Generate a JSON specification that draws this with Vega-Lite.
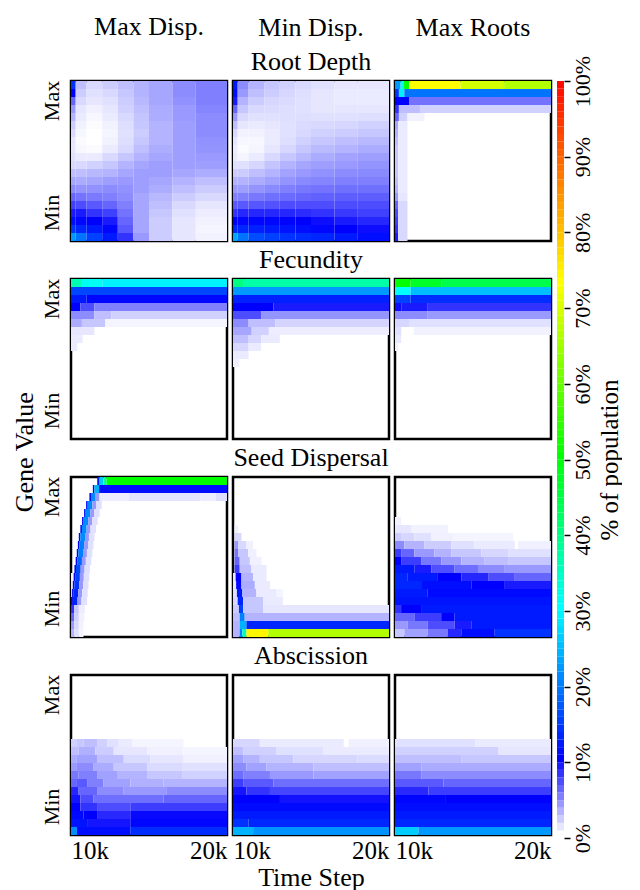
{
"$schema":"https://vega.github.io/schema/vega-lite/v6.json",
"padding":{"left":11,"top":13,"right":0,"bottom":0},
"background":"#ffffff",
"config":{
 "font":"Liberation Serif",
 "view":{"stroke":"#000000","strokeWidth":2.5},
 "title":{"fontSize":26,"fontWeight":"normal","font":"Liberation Serif","lineHeight":34,"offset":6,"anchor":"middle","color":"#000000"},
 "axis":{"grid":false,"domain":false,"ticks":false,"labelFont":"Liberation Serif","labelColor":"#000000","titleFont":"Liberation Serif","titleFontWeight":"normal","titleColor":"#000000"}
},
"datasets":{
"RD0":[
{"a":10,"b":10.3,"y":19,"v":14},{"a":10.3,"b":11,"y":19,"v":2.5},{"a":11,"b":12,"y":19,"v":1.5},{"a":12,"b":13,"y":19,"v":2},{"a":13,"b":14,"y":19,"v":2.5},{"a":14,"b":15,"y":19,"v":3},{"a":15,"b":16.5,"y":19,"v":3.5},{"a":16.5,"b":18,"y":19,"v":4.5},{"a":18,"b":20,"y":19,"v":5},
{"a":10,"b":10.3,"y":18,"v":10},{"a":10.3,"b":11,"y":18,"v":2},{"a":11,"b":12,"y":18,"v":1.2},{"a":12,"b":13,"y":18,"v":1.5},{"a":13,"b":14,"y":18,"v":2.2},{"a":14,"b":15,"y":18,"v":3},{"a":15,"b":16.5,"y":18,"v":3.5},{"a":16.5,"b":18,"y":18,"v":4.5},{"a":18,"b":20,"y":18,"v":5},
{"a":10,"b":10.3,"y":17,"v":6},{"a":10.3,"b":11,"y":17,"v":1.5},{"a":11,"b":12,"y":17,"v":1},{"a":12,"b":13,"y":17,"v":1.2},{"a":13,"b":14,"y":17,"v":2},{"a":14,"b":15,"y":17,"v":2.8},{"a":15,"b":16.5,"y":17,"v":3.5},{"a":16.5,"b":18,"y":17,"v":4.3},{"a":18,"b":20,"y":17,"v":5},
{"a":10,"b":10.3,"y":16,"v":4},{"a":10.3,"b":11,"y":16,"v":1},{"a":11,"b":12,"y":16,"v":0.6},{"a":12,"b":13,"y":16,"v":1},{"a":13,"b":14,"y":16,"v":1.8},{"a":14,"b":15,"y":16,"v":2.5},{"a":15,"b":16.5,"y":16,"v":3.3},{"a":16.5,"b":18,"y":16,"v":4},{"a":18,"b":20,"y":16,"v":4.8},
{"a":10,"b":10.3,"y":15,"v":3},{"a":10.3,"b":11,"y":15,"v":0.8},{"a":11,"b":12,"y":15,"v":0.3},{"a":12,"b":13,"y":15,"v":0.8},{"a":13,"b":14,"y":15,"v":1.5},{"a":14,"b":15,"y":15,"v":2.3},{"a":15,"b":16.5,"y":15,"v":3.2},{"a":16.5,"b":18,"y":15,"v":4},{"a":18,"b":20,"y":15,"v":4.5},
{"a":10,"b":10.3,"y":14,"v":2},{"a":10.3,"b":11,"y":14,"v":0.5},{"a":11,"b":12,"y":14,"v":0.1},{"a":12,"b":13,"y":14,"v":0.5},{"a":13,"b":14,"y":14,"v":1.3},{"a":14,"b":15,"y":14,"v":2.2},{"a":15,"b":16.5,"y":14,"v":3},{"a":16.5,"b":18,"y":14,"v":3.8},{"a":18,"b":20,"y":14,"v":4.5},
{"a":10,"b":10.3,"y":13,"v":1.5},{"a":10.3,"b":11,"y":13,"v":0.3},{"a":12,"b":13,"y":13,"v":0.4},{"a":13,"b":14,"y":13,"v":1.2},{"a":14,"b":15,"y":13,"v":2},{"a":15,"b":16.5,"y":13,"v":3},{"a":16.5,"b":18,"y":13,"v":3.8},{"a":18,"b":20,"y":13,"v":4.5},
{"a":10,"b":10.3,"y":12,"v":1},{"a":10.3,"b":11,"y":12,"v":0.2},{"a":12,"b":13,"y":12,"v":0.5},{"a":13,"b":14,"y":12,"v":1.3},{"a":14,"b":15,"y":12,"v":2.2},{"a":15,"b":16.5,"y":12,"v":3},{"a":16.5,"b":18,"y":12,"v":3.8},{"a":18,"b":20,"y":12,"v":4.3},
{"a":10,"b":10.3,"y":11,"v":1},{"a":10.3,"b":11,"y":11,"v":0.3},{"a":11,"b":12,"y":11,"v":0.2},{"a":12,"b":13,"y":11,"v":0.8},{"a":13,"b":14,"y":11,"v":1.5},{"a":14,"b":15,"y":11,"v":2.5},{"a":15,"b":16.5,"y":11,"v":3.2},{"a":16.5,"b":18,"y":11,"v":3.8},{"a":18,"b":20,"y":11,"v":4.2},
{"a":10,"b":10.3,"y":10,"v":1.2},{"a":10.3,"b":11,"y":10,"v":0.8},{"a":11,"b":12,"y":10,"v":0.8},{"a":12,"b":13,"y":10,"v":1.5},{"a":13,"b":14,"y":10,"v":2.2},{"a":14,"b":15,"y":10,"v":3},{"a":15,"b":16.5,"y":10,"v":3.5},{"a":16.5,"b":18,"y":10,"v":3.8},{"a":18,"b":20,"y":10,"v":4},
{"a":10,"b":10.3,"y":9,"v":1.5},{"a":10.3,"b":11,"y":9,"v":1.5},{"a":11,"b":12,"y":9,"v":1.8},{"a":12,"b":13,"y":9,"v":2.2},{"a":13,"b":14,"y":9,"v":3},{"a":14,"b":15,"y":9,"v":3.5},{"a":15,"b":16.5,"y":9,"v":3.8},{"a":16.5,"b":18,"y":9,"v":3.8},{"a":18,"b":20,"y":9,"v":3.8},
{"a":10,"b":10.3,"y":8,"v":2.5},{"a":10.3,"b":11,"y":8,"v":2.5},{"a":11,"b":12,"y":8,"v":2.8},{"a":12,"b":13,"y":8,"v":3},{"a":13,"b":14,"y":8,"v":3.5},{"a":14,"b":15,"y":8,"v":3.8},{"a":15,"b":16.5,"y":8,"v":3.8},{"a":16.5,"b":18,"y":8,"v":3.5},{"a":18,"b":20,"y":8,"v":3.2},
{"a":10,"b":10.3,"y":7,"v":3.5},{"a":10.3,"b":11,"y":7,"v":3.3},{"a":11,"b":12,"y":7,"v":3.5},{"a":12,"b":13,"y":7,"v":3.8},{"a":13,"b":14,"y":7,"v":4},{"a":14,"b":15,"y":7,"v":3.8},{"a":15,"b":16.5,"y":7,"v":3.5},{"a":16.5,"b":18,"y":7,"v":3},{"a":18,"b":20,"y":7,"v":2.5},
{"a":10,"b":10.3,"y":6,"v":4.5},{"a":10.3,"b":11,"y":6,"v":4.2},{"a":11,"b":12,"y":6,"v":4.3},{"a":12,"b":13,"y":6,"v":4.5},{"a":13,"b":14,"y":6,"v":4.3},{"a":14,"b":15,"y":6,"v":3.8},{"a":15,"b":16.5,"y":6,"v":3.2},{"a":16.5,"b":18,"y":6,"v":2.5},{"a":18,"b":20,"y":6,"v":2},
{"a":10,"b":10.3,"y":5,"v":6},{"a":10.3,"b":11,"y":5,"v":5.5},{"a":11,"b":12,"y":5,"v":5.2},{"a":12,"b":13,"y":5,"v":5},{"a":13,"b":14,"y":5,"v":4.5},{"a":14,"b":15,"y":5,"v":3.5},{"a":15,"b":16.5,"y":5,"v":2.8},{"a":16.5,"b":18,"y":5,"v":2},{"a":18,"b":20,"y":5,"v":1.5},
{"a":10,"b":10.3,"y":4,"v":7.5},{"a":10.3,"b":11,"y":4,"v":7},{"a":11,"b":12,"y":4,"v":6.5},{"a":12,"b":13,"y":4,"v":6},{"a":13,"b":14,"y":4,"v":5},{"a":14,"b":15,"y":4,"v":3.5},{"a":15,"b":16.5,"y":4,"v":2.5},{"a":16.5,"b":18,"y":4,"v":1.5},{"a":18,"b":20,"y":4,"v":1},
{"a":10,"b":10.3,"y":3,"v":9},{"a":10.3,"b":11,"y":3,"v":9},{"a":11,"b":12,"y":3,"v":8},{"a":12,"b":13,"y":3,"v":7.5},{"a":13,"b":14,"y":3,"v":5.5},{"a":14,"b":15,"y":3,"v":3.5},{"a":15,"b":16.5,"y":3,"v":2.2},{"a":16.5,"b":18,"y":3,"v":1.2},{"a":18,"b":20,"y":3,"v":0.7},
{"a":10,"b":10.3,"y":2,"v":11},{"a":10.3,"b":11,"y":2,"v":10.5},{"a":11,"b":12,"y":2,"v":10},{"a":12,"b":13,"y":2,"v":9},{"a":13,"b":14,"y":2,"v":6},{"a":14,"b":15,"y":2,"v":3.5},{"a":15,"b":16.5,"y":2,"v":2},{"a":16.5,"b":18,"y":2,"v":1},{"a":18,"b":20,"y":2,"v":0.5},
{"a":10,"b":10.3,"y":1,"v":14},{"a":10.3,"b":11,"y":1,"v":13},{"a":11,"b":12,"y":1,"v":12},{"a":12,"b":13,"y":1,"v":10.5},{"a":13,"b":14,"y":1,"v":6.5},{"a":14,"b":15,"y":1,"v":3.5},{"a":15,"b":16.5,"y":1,"v":2},{"a":16.5,"b":18,"y":1,"v":1},{"a":18,"b":20,"y":1,"v":0.4},
{"a":10,"b":10.3,"y":0,"v":22},{"a":10.3,"b":11,"y":0,"v":19},{"a":11,"b":12,"y":0,"v":15},{"a":12,"b":13,"y":0,"v":12},{"a":13,"b":14,"y":0,"v":8},{"a":14,"b":15,"y":0,"v":4},{"a":15,"b":16.5,"y":0,"v":2},{"a":16.5,"b":18,"y":0,"v":1},{"a":18,"b":20,"y":0,"v":0.5}
],
"RD1":[
{"a":10,"b":10.3,"y":19,"v":12},{"a":10.3,"b":11,"y":19,"v":4.5},{"a":11,"b":12,"y":19,"v":3},{"a":12,"b":13,"y":19,"v":2.2},{"a":13,"b":14,"y":19,"v":1.8},{"a":14,"b":15,"y":19,"v":1.5},{"a":15,"b":16.5,"y":19,"v":1.2},{"a":16.5,"b":18,"y":19,"v":1},{"a":18,"b":20,"y":19,"v":1},
{"a":10,"b":10.3,"y":18,"v":11},{"a":10.3,"b":11,"y":18,"v":4},{"a":11,"b":12,"y":18,"v":2.5},{"a":12,"b":13,"y":18,"v":2},{"a":13,"b":14,"y":18,"v":1.6},{"a":14,"b":15,"y":18,"v":1.3},{"a":15,"b":16.5,"y":18,"v":1},{"a":16.5,"b":18,"y":18,"v":0.8},{"a":18,"b":20,"y":18,"v":0.8},
{"a":10,"b":10.3,"y":17,"v":9},{"a":10.3,"b":11,"y":17,"v":3},{"a":11,"b":12,"y":17,"v":2},{"a":12,"b":13,"y":17,"v":1.6},{"a":13,"b":14,"y":17,"v":1.4},{"a":14,"b":15,"y":17,"v":1.2},{"a":15,"b":16.5,"y":17,"v":1},{"a":16.5,"b":18,"y":17,"v":0.8},{"a":18,"b":20,"y":17,"v":0.8},
{"a":10,"b":10.3,"y":16,"v":6},{"a":10.3,"b":11,"y":16,"v":2.2},{"a":11,"b":12,"y":16,"v":1.5},{"a":12,"b":13,"y":16,"v":1.4},{"a":13,"b":14,"y":16,"v":1.3},{"a":14,"b":15,"y":16,"v":1.2},{"a":15,"b":16.5,"y":16,"v":1},{"a":16.5,"b":18,"y":16,"v":1},{"a":18,"b":20,"y":16,"v":1},
{"a":10,"b":10.3,"y":15,"v":4},{"a":10.3,"b":11,"y":15,"v":1.5},{"a":11,"b":12,"y":15,"v":1.2},{"a":12,"b":13,"y":15,"v":1.2},{"a":13,"b":14,"y":15,"v":1.3},{"a":14,"b":15,"y":15,"v":1.3},{"a":15,"b":16.5,"y":15,"v":1.2},{"a":16.5,"b":18,"y":15,"v":1.2},{"a":18,"b":20,"y":15,"v":1.3},
{"a":10,"b":10.3,"y":14,"v":2.5},{"a":10.3,"b":11,"y":14,"v":1},{"a":11,"b":12,"y":14,"v":0.8},{"a":12,"b":13,"y":14,"v":1},{"a":13,"b":14,"y":14,"v":1.2},{"a":14,"b":15,"y":14,"v":1.4},{"a":15,"b":16.5,"y":14,"v":1.5},{"a":16.5,"b":18,"y":14,"v":1.6},{"a":18,"b":20,"y":14,"v":1.8},
{"a":10,"b":10.3,"y":13,"v":1.5},{"a":10.3,"b":11,"y":13,"v":0.5},{"a":11,"b":12,"y":13,"v":0.5},{"a":12,"b":13,"y":13,"v":0.8},{"a":13,"b":14,"y":13,"v":1.2},{"a":14,"b":15,"y":13,"v":1.5},{"a":15,"b":16.5,"y":13,"v":1.8},{"a":16.5,"b":18,"y":13,"v":2},{"a":18,"b":20,"y":13,"v":2.2},
{"a":10,"b":10.3,"y":12,"v":1},{"a":10.3,"b":11,"y":12,"v":0.3},{"a":11,"b":12,"y":12,"v":0.3},{"a":12,"b":13,"y":12,"v":0.8},{"a":13,"b":14,"y":12,"v":1.3},{"a":14,"b":15,"y":12,"v":1.8},{"a":15,"b":16.5,"y":12,"v":2.2},{"a":16.5,"b":18,"y":12,"v":2.5},{"a":18,"b":20,"y":12,"v":2.8},
{"a":10,"b":10.3,"y":11,"v":0.7},{"a":10.3,"b":11,"y":11,"v":0.2},{"a":11,"b":12,"y":11,"v":0.4},{"a":12,"b":13,"y":11,"v":1},{"a":13,"b":14,"y":11,"v":1.6},{"a":14,"b":15,"y":11,"v":2.2},{"a":15,"b":16.5,"y":11,"v":2.7},{"a":16.5,"b":18,"y":11,"v":3},{"a":18,"b":20,"y":11,"v":3.3},
{"a":10,"b":10.3,"y":10,"v":0.8},{"a":10.3,"b":11,"y":10,"v":0.4},{"a":11,"b":12,"y":10,"v":0.8},{"a":12,"b":13,"y":10,"v":1.5},{"a":13,"b":14,"y":10,"v":2.2},{"a":14,"b":15,"y":10,"v":2.8},{"a":15,"b":16.5,"y":10,"v":3.3},{"a":16.5,"b":18,"y":10,"v":3.6},{"a":18,"b":20,"y":10,"v":3.8},
{"a":10,"b":10.3,"y":9,"v":1.2},{"a":10.3,"b":11,"y":9,"v":1.2},{"a":11,"b":12,"y":9,"v":1.6},{"a":12,"b":13,"y":9,"v":2.3},{"a":13,"b":14,"y":9,"v":3},{"a":14,"b":15,"y":9,"v":3.5},{"a":15,"b":16.5,"y":9,"v":3.8},{"a":16.5,"b":18,"y":9,"v":4},{"a":18,"b":20,"y":9,"v":4.2},
{"a":10,"b":10.3,"y":8,"v":2},{"a":10.3,"b":11,"y":8,"v":2},{"a":11,"b":12,"y":8,"v":2.5},{"a":12,"b":13,"y":8,"v":3},{"a":13,"b":14,"y":8,"v":3.6},{"a":14,"b":15,"y":8,"v":4},{"a":15,"b":16.5,"y":8,"v":4.3},{"a":16.5,"b":18,"y":8,"v":4.5},{"a":18,"b":20,"y":8,"v":4.6},
{"a":10,"b":10.3,"y":7,"v":3},{"a":10.3,"b":11,"y":7,"v":3},{"a":11,"b":12,"y":7,"v":3.3},{"a":12,"b":13,"y":7,"v":3.7},{"a":13,"b":14,"y":7,"v":4.2},{"a":14,"b":15,"y":7,"v":4.6},{"a":15,"b":16.5,"y":7,"v":4.8},{"a":16.5,"b":18,"y":7,"v":5},{"a":18,"b":20,"y":7,"v":5},
{"a":10,"b":10.3,"y":6,"v":4},{"a":10.3,"b":11,"y":6,"v":3.8},{"a":11,"b":12,"y":6,"v":4.2},{"a":12,"b":13,"y":6,"v":4.6},{"a":13,"b":14,"y":6,"v":5},{"a":14,"b":15,"y":6,"v":5.3},{"a":15,"b":16.5,"y":6,"v":5.5},{"a":16.5,"b":18,"y":6,"v":5.6},{"a":18,"b":20,"y":6,"v":5.6},
{"a":10,"b":10.3,"y":5,"v":5},{"a":10.3,"b":11,"y":5,"v":5},{"a":11,"b":12,"y":5,"v":5.3},{"a":12,"b":13,"y":5,"v":5.6},{"a":13,"b":14,"y":5,"v":5.8},{"a":14,"b":15,"y":5,"v":6},{"a":15,"b":16.5,"y":5,"v":6.2},{"a":16.5,"b":18,"y":5,"v":6.3},{"a":18,"b":20,"y":5,"v":6.3},
{"a":10,"b":10.3,"y":4,"v":6.5},{"a":10.3,"b":11,"y":4,"v":6.5},{"a":11,"b":12,"y":4,"v":6.6},{"a":12,"b":13,"y":4,"v":6.8},{"a":13,"b":14,"y":4,"v":7},{"a":14,"b":15,"y":4,"v":7},{"a":15,"b":16.5,"y":4,"v":7},{"a":16.5,"b":18,"y":4,"v":7},{"a":18,"b":20,"y":4,"v":7},
{"a":10,"b":10.3,"y":3,"v":8},{"a":10.3,"b":11,"y":3,"v":8.5},{"a":11,"b":12,"y":3,"v":8.5},{"a":12,"b":13,"y":3,"v":8.5},{"a":13,"b":14,"y":3,"v":8.5},{"a":14,"b":15,"y":3,"v":8.3},{"a":15,"b":16.5,"y":3,"v":8},{"a":16.5,"b":18,"y":3,"v":7.8},{"a":18,"b":20,"y":3,"v":7.5},
{"a":10,"b":10.3,"y":2,"v":10},{"a":10.3,"b":11,"y":2,"v":10.5},{"a":11,"b":12,"y":2,"v":10.5},{"a":12,"b":13,"y":2,"v":10.5},{"a":13,"b":14,"y":2,"v":10.3},{"a":14,"b":15,"y":2,"v":10},{"a":15,"b":16.5,"y":2,"v":9.5},{"a":16.5,"b":18,"y":2,"v":9},{"a":18,"b":20,"y":2,"v":8.5},
{"a":10,"b":10.3,"y":1,"v":13},{"a":10.3,"b":11,"y":1,"v":13},{"a":11,"b":12,"y":1,"v":12.5},{"a":12,"b":13,"y":1,"v":12},{"a":13,"b":14,"y":1,"v":11.5},{"a":14,"b":15,"y":1,"v":11},{"a":15,"b":16.5,"y":1,"v":10.5},{"a":16.5,"b":18,"y":1,"v":10},{"a":18,"b":20,"y":1,"v":9.5},
{"a":10,"b":10.3,"y":0,"v":23},{"a":10.3,"b":11,"y":0,"v":19},{"a":11,"b":12,"y":0,"v":16},{"a":12,"b":13,"y":0,"v":15},{"a":13,"b":14,"y":0,"v":14},{"a":14,"b":15,"y":0,"v":13.5},{"a":15,"b":16.5,"y":0,"v":13},{"a":16.5,"b":18,"y":0,"v":12},{"a":18,"b":20,"y":0,"v":11}
],
"RD2":[
{"a":10,"b":10.36,"y":19,"v":22},{"a":10.36,"b":10.58,"y":19,"v":32},{"a":10.58,"b":10.9,"y":19,"v":50},{"a":10.9,"b":14.2,"y":19,"v":73},{"a":14.2,"b":17,"y":19,"v":69},{"a":17,"b":20,"y":19,"v":66},
{"a":10,"b":10.25,"y":18,"v":14},{"a":10.25,"b":10.6,"y":18,"v":29},{"a":10.6,"b":20,"y":18,"v":19},
{"a":10,"b":10.9,"y":17,"v":10},{"a":10.9,"b":20,"y":17,"v":5.5},
{"a":10,"b":10.25,"y":16,"v":8},{"a":10.25,"b":11.6,"y":16,"v":2.5},{"a":11.6,"b":20,"y":16,"v":1.8},
{"a":10,"b":10.25,"y":15,"v":6},{"a":10.25,"b":10.8,"y":15,"v":1.8},{"a":10.8,"b":11.9,"y":15,"v":0.5},
{"a":10,"b":10.2,"y":14,"v":3.5},{"a":10.2,"b":10.8,"y":14,"v":0.8},
{"a":10,"b":10.2,"y":13,"v":3},{"a":10.2,"b":10.8,"y":13,"v":0.8},
{"a":10,"b":10.2,"y":12,"v":2.5},{"a":10.2,"b":10.8,"y":12,"v":0.8},
{"a":10,"b":10.2,"y":11,"v":2.2},{"a":10.2,"b":10.8,"y":11,"v":0.8},
{"a":10,"b":10.2,"y":10,"v":2.2},{"a":10.2,"b":10.8,"y":10,"v":0.8},
{"a":10,"b":10.2,"y":9,"v":2.2},{"a":10.2,"b":10.8,"y":9,"v":0.8},
{"a":10,"b":10.2,"y":8,"v":2.2},{"a":10.2,"b":10.8,"y":8,"v":0.8},
{"a":10,"b":10.2,"y":7,"v":2.5},{"a":10.2,"b":10.8,"y":7,"v":0.8},
{"a":10,"b":10.2,"y":6,"v":3},{"a":10.2,"b":10.8,"y":6,"v":0.8},
{"a":10,"b":10.2,"y":5,"v":4},{"a":10.2,"b":10.8,"y":5,"v":1},
{"a":10,"b":10.2,"y":4,"v":6},{"a":10.2,"b":10.8,"y":4,"v":1.5},
{"a":10,"b":10.2,"y":3,"v":7},{"a":10.2,"b":10.8,"y":3,"v":1.5},
{"a":10,"b":10.2,"y":2,"v":7.5},{"a":10.2,"b":10.8,"y":2,"v":1.5},
{"a":10,"b":10.2,"y":1,"v":8},{"a":10.2,"b":10.8,"y":1,"v":1.5},
{"a":10,"b":10.2,"y":0,"v":9},{"a":10.2,"b":10.8,"y":0,"v":1.5}
],
"FC0":[
{"a":10,"b":10.7,"y":19,"v":36},{"a":10.7,"b":12,"y":19,"v":31},{"a":12,"b":20,"y":19,"v":29},
{"a":10,"b":20,"y":18,"v":15.5},
{"a":10,"b":11,"y":17,"v":12},{"a":11,"b":20,"y":17,"v":10.5},
{"a":10,"b":10.6,"y":16,"v":10},{"a":10.6,"b":11.5,"y":16,"v":7},{"a":11.5,"b":20,"y":16,"v":5},
{"a":10,"b":11.5,"y":15,"v":4.5},{"a":11.5,"b":12.6,"y":15,"v":2.5},{"a":12.6,"b":20,"y":15,"v":1.8},
{"a":10,"b":10.7,"y":14,"v":3.3},{"a":10.7,"b":12.2,"y":14,"v":2.2},{"a":12.2,"b":20,"y":14,"v":0.4},
{"a":10,"b":11.5,"y":13,"v":1},
{"a":10,"b":10.75,"y":12,"v":0.8},
{"a":10,"b":10.4,"y":11,"v":0.8}
],
"FC1":[
{"a":10,"b":10.7,"y":19,"v":40},{"a":10.7,"b":20,"y":19,"v":37},
{"a":10,"b":20,"y":18,"v":22},
{"a":10,"b":20,"y":17,"v":12.5},
{"a":10,"b":12.6,"y":16,"v":10},{"a":12.6,"b":20,"y":16,"v":9},
{"a":10,"b":11.8,"y":15,"v":7},{"a":11.8,"b":20,"y":15,"v":4.2},
{"a":10,"b":11,"y":14,"v":4.5},{"a":11,"b":12.7,"y":14,"v":2.5},{"a":12.7,"b":20,"y":14,"v":1.7},
{"a":10,"b":11.2,"y":13,"v":3.5},{"a":11.2,"b":12.3,"y":13,"v":1.8},{"a":12.3,"b":20,"y":13,"v":0.7},
{"a":10,"b":11,"y":12,"v":2.5},{"a":11,"b":11.8,"y":12,"v":1.6},{"a":11.8,"b":13,"y":12,"v":0.8},
{"a":10,"b":11,"y":11,"v":1.6},{"a":11,"b":11.8,"y":11,"v":0.8},
{"a":10,"b":11,"y":10,"v":0.8},
{"a":10,"b":10.4,"y":9,"v":0.6}
],
"FC2":[
{"a":10,"b":11,"y":19,"v":50},{"a":11,"b":13,"y":19,"v":47},{"a":13,"b":20,"y":19,"v":44},
{"a":10,"b":11,"y":18,"v":30},{"a":11,"b":20,"y":18,"v":25},
{"a":10,"b":11,"y":17,"v":15},{"a":11,"b":20,"y":17,"v":13.5},
{"a":10,"b":10.4,"y":16,"v":9.5},{"a":10.4,"b":12.1,"y":16,"v":9},{"a":12.1,"b":20,"y":16,"v":8},
{"a":10,"b":12.1,"y":15,"v":4.5},{"a":12.1,"b":20,"y":15,"v":4},
{"a":10,"b":10.9,"y":14,"v":1.6},{"a":10.9,"b":20,"y":14,"v":1.2},
{"a":10,"b":10.4,"y":13,"v":1.2},{"a":11.2,"b":20,"y":13,"v":0.5},
{"a":10,"b":10.4,"y":12,"v":0.9},
{"a":10,"b":10.2,"y":11,"v":0.5}
],
"SD0":[
{"a":10,"b":10.2,"y":0,"v":3},{"a":10.2,"b":10.5,"y":0,"v":1.2},{"a":10.5,"b":10.8,"y":0,"v":0.4},
{"a":10,"b":10.2,"y":1,"v":4},{"a":10.2,"b":10.5,"y":1,"v":1.5},{"a":10.5,"b":10.8,"y":1,"v":0.5},
{"a":10,"b":10.2,"y":2,"v":6},{"a":10.2,"b":10.5,"y":2,"v":1.8},{"a":10.5,"b":10.85,"y":2,"v":0.6},
{"a":10,"b":10.2,"y":3,"v":8},{"a":10.2,"b":10.5,"y":3,"v":2.2},{"a":10.5,"b":10.9,"y":3,"v":0.7},
{"a":10,"b":10.12,"y":4,"v":10},{"a":10.12,"b":10.42,"y":4,"v":13},{"a":10.42,"b":10.67,"y":4,"v":4},{"a":10.67,"b":11.02,"y":4,"v":1.2},
{"a":10,"b":10.07,"y":5,"v":2},{"a":10.07,"b":10.17,"y":5,"v":10},{"a":10.17,"b":10.47,"y":5,"v":13},{"a":10.47,"b":10.72,"y":5,"v":4},{"a":10.72,"b":11.07,"y":5,"v":1.2},
{"a":10,"b":10.12,"y":6,"v":1},{"a":10.12,"b":10.22,"y":6,"v":10},{"a":10.22,"b":10.52,"y":6,"v":14},{"a":10.52,"b":10.77,"y":6,"v":4},{"a":10.77,"b":11.12,"y":6,"v":1.2},
{"a":10,"b":10.17,"y":7,"v":0.6},{"a":10.17,"b":10.27,"y":7,"v":10},{"a":10.27,"b":10.57,"y":7,"v":15},{"a":10.57,"b":10.82,"y":7,"v":4},{"a":10.82,"b":11.17,"y":7,"v":1.2},
{"a":10.22,"b":10.32,"y":8,"v":10},{"a":10.32,"b":10.62,"y":8,"v":16},{"a":10.62,"b":10.87,"y":8,"v":4},{"a":10.87,"b":11.22,"y":8,"v":1.2},
{"a":10.3,"b":10.4,"y":9,"v":10},{"a":10.4,"b":10.7,"y":9,"v":18},{"a":10.7,"b":10.95,"y":9,"v":4},{"a":10.95,"b":11.3,"y":9,"v":1.2},
{"a":10.37,"b":10.47,"y":10,"v":10},{"a":10.47,"b":10.77,"y":10,"v":20},{"a":10.77,"b":11.02,"y":10,"v":4},{"a":11.02,"b":11.37,"y":10,"v":1.2},
{"a":10.44,"b":10.54,"y":11,"v":10},{"a":10.54,"b":10.84,"y":11,"v":20},{"a":10.84,"b":11.09,"y":11,"v":4},{"a":11.09,"b":11.44,"y":11,"v":1.2},
{"a":10.5,"b":10.6,"y":12,"v":10},{"a":10.6,"b":10.9,"y":12,"v":21},{"a":10.9,"b":11.15,"y":12,"v":4},{"a":11.15,"b":11.5,"y":12,"v":1.2},
{"a":10.6,"b":10.7,"y":13,"v":10},{"a":10.7,"b":11,"y":13,"v":21},{"a":11,"b":11.25,"y":13,"v":4},{"a":11.25,"b":11.6,"y":13,"v":1.2},
{"a":10.71,"b":10.81,"y":14,"v":10},{"a":10.81,"b":11.11,"y":14,"v":21},{"a":11.11,"b":11.36,"y":14,"v":4},{"a":11.36,"b":11.71,"y":14,"v":1.2},
{"a":10.84,"b":10.94,"y":15,"v":10},{"a":10.94,"b":11.24,"y":15,"v":21},{"a":11.24,"b":11.49,"y":15,"v":4},{"a":11.49,"b":11.84,"y":15,"v":1.2},
{"a":10.97,"b":11.07,"y":16,"v":10},{"a":11.07,"b":11.37,"y":16,"v":21},{"a":11.37,"b":11.62,"y":16,"v":4},{"a":11.62,"b":11.97,"y":16,"v":1.2},
{"a":11.18,"b":11.28,"y":17,"v":10},{"a":11.28,"b":11.58,"y":17,"v":21},{"a":11.58,"b":11.83,"y":17,"v":4},{"a":11.83,"b":13.7,"y":17,"v":0.7},{"a":13.7,"b":18.3,"y":17,"v":1.1},{"a":18.3,"b":19.3,"y":17,"v":0.7},{"a":19.3,"b":20,"y":17,"v":1.3},
{"a":11.4,"b":11.5,"y":18,"v":10},{"a":11.5,"b":11.8,"y":18,"v":24},{"a":11.8,"b":20,"y":18,"v":11},
{"a":11.68,"b":11.83,"y":19,"v":12},{"a":11.83,"b":12.08,"y":19,"v":26},{"a":12.08,"b":12.28,"y":19,"v":38},{"a":12.28,"b":20,"y":19,"v":50}
],
"SD1":[
{"a":10.1,"b":10.32,"y":13,"v":0.6},
{"a":10.1,"b":10.54,"y":12,"v":1.5},
{"a":10.1,"b":10.32,"y":11,"v":4},{"a":10.32,"b":10.86,"y":11,"v":1.5},{"a":10.86,"b":11.29,"y":11,"v":0.6},
{"a":10.1,"b":10.32,"y":10,"v":5.3},{"a":10.32,"b":10.97,"y":10,"v":2.2},{"a":10.97,"b":11.5,"y":10,"v":0.6},
{"a":10.1,"b":10.43,"y":9,"v":6},{"a":10.43,"b":11.08,"y":9,"v":2.2},{"a":11.08,"b":11.83,"y":9,"v":0.6},
{"a":10.1,"b":10.43,"y":8,"v":7.6},{"a":10.43,"b":11.18,"y":8,"v":2.5},{"a":11.18,"b":12.15,"y":8,"v":0.8},
{"a":10,"b":10.17,"y":7,"v":1},{"a":10.17,"b":10.54,"y":7,"v":10},{"a":10.54,"b":11.29,"y":7,"v":3},{"a":11.29,"b":12.15,"y":7,"v":0.8},
{"a":10,"b":10.2,"y":6,"v":1},{"a":10.2,"b":10.54,"y":6,"v":10.5},{"a":10.54,"b":11.4,"y":6,"v":3.3},{"a":11.4,"b":12.37,"y":6,"v":0.8},
{"a":10,"b":10.25,"y":5,"v":1.2},{"a":10.25,"b":10.6,"y":5,"v":12},{"a":10.6,"b":11.5,"y":5,"v":3},{"a":11.5,"b":12.8,"y":5,"v":0.8},{"a":12.8,"b":13.2,"y":5,"v":0.4},
{"a":10,"b":10.3,"y":4,"v":1.5},{"a":10.3,"b":10.65,"y":4,"v":13},{"a":10.65,"b":11.94,"y":4,"v":2.2},{"a":11.94,"b":13.2,"y":4,"v":0.8},
{"a":10,"b":10.38,"y":3,"v":2},{"a":10.38,"b":10.65,"y":3,"v":15},{"a":10.65,"b":11.94,"y":3,"v":2.2},{"a":11.94,"b":20,"y":3,"v":1},
{"a":10,"b":10.43,"y":2,"v":2.5},{"a":10.43,"b":10.75,"y":2,"v":20},{"a":10.75,"b":20,"y":2,"v":3},
{"a":10,"b":10.43,"y":1,"v":3},{"a":10.43,"b":10.86,"y":1,"v":24},{"a":10.86,"b":20,"y":1,"v":13},
{"a":10,"b":10.43,"y":0,"v":3},{"a":10.43,"b":10.6,"y":0,"v":20},{"a":10.6,"b":10.86,"y":0,"v":35},{"a":10.86,"b":12.26,"y":0,"v":74},{"a":12.26,"b":20,"y":0,"v":66}
],
"SD2":[
{"a":10,"b":10.39,"y":14,"v":0.5},
{"a":10,"b":11.03,"y":13,"v":1},{"a":11.03,"b":13.39,"y":13,"v":0.5},
{"a":10,"b":10.39,"y":12,"v":2},{"a":10.39,"b":11.24,"y":12,"v":1.6},{"a":11.24,"b":12.32,"y":12,"v":1.2},{"a":12.32,"b":13.71,"y":12,"v":0.6},{"a":13.71,"b":17.58,"y":12,"v":0.4},
{"a":10,"b":10.6,"y":11,"v":4.5},{"a":10.6,"b":11.89,"y":11,"v":3},{"a":11.89,"b":13.6,"y":11,"v":2},{"a":13.6,"b":15.1,"y":11,"v":1.2},{"a":15.1,"b":17.68,"y":11,"v":0.8},{"a":17.9,"b":20,"y":11,"v":0.6},
{"a":10,"b":10.39,"y":10,"v":7.6},{"a":10.39,"b":11.24,"y":10,"v":6},{"a":11.24,"b":12.53,"y":10,"v":4},{"a":12.53,"b":13.6,"y":10,"v":3},{"a":13.6,"b":15.54,"y":10,"v":2.2},{"a":15.54,"b":17.25,"y":10,"v":1.6},{"a":17.25,"b":20,"y":10,"v":1.2},
{"a":10,"b":10.39,"y":9,"v":10},{"a":10.39,"b":11.67,"y":9,"v":7.6},{"a":11.67,"b":12.96,"y":9,"v":5.3},{"a":12.96,"b":14.25,"y":9,"v":4},{"a":14.25,"b":15.75,"y":9,"v":3},{"a":15.75,"b":17.25,"y":9,"v":2.5},{"a":17.25,"b":20,"y":9,"v":2.2},
{"a":10,"b":11.24,"y":8,"v":12},{"a":11.24,"b":12.32,"y":8,"v":9},{"a":12.32,"b":13.82,"y":8,"v":6.9},{"a":13.82,"b":15.32,"y":8,"v":5.7},{"a":15.32,"b":17.04,"y":8,"v":4.5},{"a":17.04,"b":20,"y":8,"v":4},
{"a":10,"b":10.82,"y":7,"v":13},{"a":10.82,"b":12.75,"y":7,"v":12},{"a":12.75,"b":14.25,"y":7,"v":10},{"a":14.25,"b":15.97,"y":7,"v":8.5},{"a":15.97,"b":17.68,"y":7,"v":7},{"a":17.68,"b":20,"y":7,"v":6},
{"a":10,"b":11.67,"y":6,"v":13},{"a":11.67,"b":14.89,"y":6,"v":11},{"a":14.89,"b":17.04,"y":6,"v":10},{"a":17.04,"b":20,"y":6,"v":9},
{"a":10,"b":12.1,"y":5,"v":12},{"a":12.1,"b":20,"y":5,"v":10.7},
{"a":10,"b":20,"y":4,"v":11.5},
{"a":10,"b":10.39,"y":3,"v":8},{"a":10.39,"b":11.67,"y":3,"v":10},{"a":11.67,"b":20,"y":3,"v":12},
{"a":10,"b":11.24,"y":2,"v":6},{"a":11.24,"b":12.96,"y":2,"v":7.6},{"a":12.96,"b":13.82,"y":2,"v":10},{"a":13.82,"b":20,"y":2,"v":12},
{"a":10,"b":10.82,"y":1,"v":4},{"a":10.82,"b":12.1,"y":1,"v":5.3},{"a":12.1,"b":13.82,"y":1,"v":7},{"a":13.82,"b":14.89,"y":1,"v":9},{"a":14.89,"b":20,"y":1,"v":12},
{"a":10,"b":10.6,"y":0,"v":2.2},{"a":10.6,"b":12.1,"y":0,"v":3.7},{"a":12.1,"b":13.39,"y":0,"v":5.3},{"a":13.39,"b":14.25,"y":0,"v":8.5},{"a":14.25,"b":16.39,"y":0,"v":11},{"a":16.39,"b":20,"y":0,"v":14}
],
"AB0":[
{"a":10,"b":10.38,"y":11,"v":1.8},{"a":10.38,"b":10.81,"y":11,"v":2.2},{"a":10.81,"b":11.67,"y":11,"v":2.5},{"a":11.67,"b":12.31,"y":11,"v":1.8},{"a":12.31,"b":13.06,"y":11,"v":1.2},{"a":13.06,"b":13.91,"y":11,"v":0.8},{"a":13.91,"b":17.22,"y":11,"v":0.4},
{"a":10,"b":10.49,"y":10,"v":2.5},{"a":10.49,"b":11.56,"y":10,"v":3.1},{"a":11.56,"b":12.74,"y":10,"v":2},{"a":12.74,"b":14.87,"y":10,"v":1},{"a":14.87,"b":17.12,"y":10,"v":0.6},{"a":17.12,"b":20,"y":10,"v":0.4},
{"a":10,"b":10.38,"y":9,"v":3.3},{"a":10.38,"b":11.67,"y":9,"v":3.7},{"a":11.67,"b":13.38,"y":9,"v":2.5},{"a":13.38,"b":15.09,"y":9,"v":1.4},{"a":15.09,"b":17.22,"y":9,"v":1},{"a":17.22,"b":20,"y":9,"v":0.6},
{"a":10,"b":10.38,"y":8,"v":4},{"a":10.38,"b":11.45,"y":8,"v":4.5},{"a":11.45,"b":12.74,"y":8,"v":3.3},{"a":12.74,"b":14.87,"y":8,"v":2.2},{"a":14.87,"b":17.12,"y":8,"v":1.4},{"a":17.12,"b":20,"y":8,"v":1.2},
{"a":10,"b":10.49,"y":7,"v":5.3},{"a":10.49,"b":11.67,"y":7,"v":5},{"a":11.67,"b":12.95,"y":7,"v":3.7},{"a":12.95,"b":14.87,"y":7,"v":3},{"a":14.87,"b":17.12,"y":7,"v":2.2},{"a":17.12,"b":20,"y":7,"v":1.8},
{"a":10,"b":10.38,"y":6,"v":6},{"a":10.38,"b":11.03,"y":6,"v":6.5},{"a":11.03,"b":12.09,"y":6,"v":5},{"a":12.09,"b":13.8,"y":6,"v":3.7},{"a":13.8,"b":15.94,"y":6,"v":3.1},{"a":15.94,"b":20,"y":6,"v":3},
{"a":10,"b":10.49,"y":5,"v":8.5},{"a":10.49,"b":11.67,"y":5,"v":6},{"a":11.67,"b":13.38,"y":5,"v":4.5},{"a":13.38,"b":16.15,"y":5,"v":4},{"a":16.15,"b":20,"y":5,"v":4.5},
{"a":10,"b":10.6,"y":4,"v":9.2},{"a":10.6,"b":11.45,"y":4,"v":7},{"a":11.45,"b":15.94,"y":4,"v":5.7},{"a":15.94,"b":20,"y":4,"v":6},
{"a":10,"b":10.6,"y":3,"v":10},{"a":10.6,"b":11.67,"y":3,"v":8},{"a":11.67,"b":13.8,"y":3,"v":7},{"a":13.8,"b":20,"y":3,"v":7.6},
{"a":10,"b":10.81,"y":2,"v":10.7},{"a":10.81,"b":11.67,"y":2,"v":10},{"a":11.67,"b":13.8,"y":2,"v":8.4},{"a":13.8,"b":20,"y":2,"v":9.7},
{"a":10,"b":11.03,"y":1,"v":11.5},{"a":11.03,"b":13.8,"y":1,"v":9.2},{"a":13.8,"b":20,"y":1,"v":10.4},
{"a":10,"b":10.38,"y":0,"v":21},{"a":10.38,"b":13.8,"y":0,"v":11},{"a":13.8,"b":20,"y":0,"v":13.5}
],
"AB1":[
{"a":10,"b":11.72,"y":11,"v":1.6},{"a":11.72,"b":17.1,"y":11,"v":0.8},{"a":17.42,"b":20,"y":11,"v":0.6},
{"a":10,"b":10.65,"y":10,"v":2.5},{"a":10.65,"b":12.8,"y":10,"v":1.8},{"a":12.8,"b":15.81,"y":10,"v":1.2},{"a":15.81,"b":20,"y":10,"v":0.8},
{"a":10,"b":10.65,"y":9,"v":3.7},{"a":10.65,"b":11.72,"y":9,"v":3},{"a":11.72,"b":13.87,"y":9,"v":2.2},{"a":13.87,"b":17.96,"y":9,"v":1.6},{"a":17.96,"b":20,"y":9,"v":1.4},
{"a":10,"b":10.86,"y":8,"v":4.5},{"a":10.86,"b":12.15,"y":8,"v":3.7},{"a":12.15,"b":15.16,"y":8,"v":3},{"a":15.16,"b":20,"y":8,"v":2.5},
{"a":10,"b":10.65,"y":7,"v":5.7},{"a":10.65,"b":12.37,"y":7,"v":5},{"a":12.37,"b":15.16,"y":7,"v":4},{"a":15.16,"b":20,"y":7,"v":3.7},
{"a":10,"b":10.65,"y":6,"v":7.6},{"a":10.65,"b":12.58,"y":6,"v":6.5},{"a":12.58,"b":20,"y":6,"v":5.7},
{"a":10,"b":10.86,"y":5,"v":9.2},{"a":10.86,"b":12.37,"y":5,"v":8},{"a":12.37,"b":20,"y":5,"v":7.3},
{"a":10,"b":13.01,"y":4,"v":10},{"a":13.01,"b":20,"y":4,"v":9.3},
{"a":10,"b":20,"y":3,"v":10.8},
{"a":10,"b":20,"y":2,"v":12},
{"a":10,"b":11,"y":1,"v":14},{"a":11,"b":20,"y":1,"v":13},
{"a":10,"b":11.29,"y":0,"v":24},{"a":11.29,"b":20,"y":0,"v":21.5}
],
"AB2":[
{"a":10,"b":15.14,"y":11,"v":1.2},{"a":15.14,"b":20,"y":11,"v":0.8},
{"a":10,"b":16.64,"y":10,"v":1.8},{"a":16.64,"b":20,"y":10,"v":1},
{"a":10,"b":14.28,"y":9,"v":2.5},{"a":14.28,"b":20,"y":9,"v":2.2},
{"a":10,"b":11.71,"y":8,"v":3.7},{"a":11.71,"b":20,"y":8,"v":3.3},
{"a":10,"b":11.71,"y":7,"v":5.3},{"a":11.71,"b":20,"y":7,"v":4.5},
{"a":10,"b":13.1,"y":6,"v":6.5},{"a":13.1,"b":20,"y":6,"v":6},
{"a":10,"b":12.14,"y":5,"v":8.4},{"a":12.14,"b":20,"y":5,"v":7.6},
{"a":10,"b":13.21,"y":4,"v":10.4},{"a":13.21,"b":20,"y":4,"v":10},
{"a":10,"b":20,"y":3,"v":11},
{"a":10,"b":20,"y":2,"v":12},
{"a":10,"b":20,"y":1,"v":13},
{"a":10,"b":11.5,"y":0,"v":26},{"a":11.5,"b":20,"y":0,"v":22}
],
"CB":[
{"p":0,"q":1},{"p":1,"q":2},{"p":2,"q":3},{"p":3,"q":4},{"p":4,"q":5},{"p":5,"q":6},{"p":6,"q":7},{"p":7,"q":8},{"p":8,"q":9},{"p":9,"q":10},
{"p":10,"q":11},{"p":11,"q":12},{"p":12,"q":13},{"p":13,"q":14},{"p":14,"q":15},{"p":15,"q":16},{"p":16,"q":17},{"p":17,"q":18},{"p":18,"q":19},{"p":19,"q":20},
{"p":20,"q":21},{"p":21,"q":22},{"p":22,"q":23},{"p":23,"q":24},{"p":24,"q":25},{"p":25,"q":26},{"p":26,"q":27},{"p":27,"q":28},{"p":28,"q":29},{"p":29,"q":30},
{"p":30,"q":31},{"p":31,"q":32},{"p":32,"q":33},{"p":33,"q":34},{"p":34,"q":35},{"p":35,"q":36},{"p":36,"q":37},{"p":37,"q":38},{"p":38,"q":39},{"p":39,"q":40},
{"p":40,"q":41},{"p":41,"q":42},{"p":42,"q":43},{"p":43,"q":44},{"p":44,"q":45},{"p":45,"q":46},{"p":46,"q":47},{"p":47,"q":48},{"p":48,"q":49},{"p":49,"q":50},
{"p":50,"q":51},{"p":51,"q":52},{"p":52,"q":53},{"p":53,"q":54},{"p":54,"q":55},{"p":55,"q":56},{"p":56,"q":57},{"p":57,"q":58},{"p":58,"q":59},{"p":59,"q":60},
{"p":60,"q":61},{"p":61,"q":62},{"p":62,"q":63},{"p":63,"q":64},{"p":64,"q":65},{"p":65,"q":66},{"p":66,"q":67},{"p":67,"q":68},{"p":68,"q":69},{"p":69,"q":70},
{"p":70,"q":71},{"p":71,"q":72},{"p":72,"q":73},{"p":73,"q":74},{"p":74,"q":75},{"p":75,"q":76},{"p":76,"q":77},{"p":77,"q":78},{"p":78,"q":79},{"p":79,"q":80},
{"p":80,"q":81},{"p":81,"q":82},{"p":82,"q":83},{"p":83,"q":84},{"p":84,"q":85},{"p":85,"q":86},{"p":86,"q":87},{"p":87,"q":88},{"p":88,"q":89},{"p":89,"q":90},
{"p":90,"q":91},{"p":91,"q":92},{"p":92,"q":93},{"p":93,"q":94},{"p":94,"q":95},{"p":95,"q":96},{"p":96,"q":97},{"p":97,"q":98},{"p":98,"q":99},{"p":99,"q":100}
]
},
"hconcat":[
{
"title":{"text":"Gene Value","orient":"left","anchor":"middle","fontSize":26,"offset":1},
"spacing":2,
"vconcat":[
{"spacing":2,"hconcat":[
{"data":{"name":"RD0"},"width":156,"height":160,"title":{"text":["Max Disp."," "]},"mark":"rect","encoding":{"x":{"field":"a","type":"quantitative","scale":{"domain":[10,20],"nice":false,"zero":false},"axis":null},"x2":{"field":"b"},"y":{"field":"y","type":"ordinal","scale":{"domain":[19,18,17,16,15,14,13,12,11,10,9,8,7,6,5,4,3,2,1,0],"paddingInner":0,"paddingOuter":0},"axis":{"values":[17,3],"labelExpr":"datum.value == 17 ? 'Max' : 'Min'","labelAngle":-90,"labelAlign":"center","labelBaseline":"bottom","labelPadding":8,"labelFontSize":22,"title":null}},"color":{"field":"v","type":"quantitative","scale":{"domain":[0,10,30,50,73,100],"range":["#ffffff","#0000ff","#00ffff","#00ff00","#ffff00","#ff0000"],"interpolate":"rgb"},"legend":null}}},
{"data":{"name":"RD1"},"width":156,"height":160,"title":{"text":["Min Disp.","Root Depth"]},"mark":"rect","encoding":{"x":{"field":"a","type":"quantitative","scale":{"domain":[10,20],"nice":false,"zero":false},"axis":null},"x2":{"field":"b"},"y":{"field":"y","type":"ordinal","scale":{"domain":[19,18,17,16,15,14,13,12,11,10,9,8,7,6,5,4,3,2,1,0],"paddingInner":0,"paddingOuter":0},"axis":null},"color":{"field":"v","type":"quantitative","scale":{"domain":[0,10,30,50,73,100],"range":["#ffffff","#0000ff","#00ffff","#00ff00","#ffff00","#ff0000"],"interpolate":"rgb"},"legend":null}}},
{"data":{"name":"RD2"},"width":156,"height":160,"title":{"text":["Max Roots"," "]},"mark":"rect","encoding":{"x":{"field":"a","type":"quantitative","scale":{"domain":[10,20],"nice":false,"zero":false},"axis":null},"x2":{"field":"b"},"y":{"field":"y","type":"ordinal","scale":{"domain":[19,18,17,16,15,14,13,12,11,10,9,8,7,6,5,4,3,2,1,0],"paddingInner":0,"paddingOuter":0},"axis":null},"color":{"field":"v","type":"quantitative","scale":{"domain":[0,10,30,50,73,100],"range":["#ffffff","#0000ff","#00ffff","#00ff00","#ffff00","#ff0000"],"interpolate":"rgb"},"legend":null}}}
]},
{"spacing":2,"hconcat":[
{"data":{"name":"FC0"},"width":156,"height":160,"title":{"text":" "},"mark":"rect","encoding":{"x":{"field":"a","type":"quantitative","scale":{"domain":[10,20],"nice":false,"zero":false},"axis":null},"x2":{"field":"b"},"y":{"field":"y","type":"ordinal","scale":{"domain":[19,18,17,16,15,14,13,12,11,10,9,8,7,6,5,4,3,2,1,0],"paddingInner":0,"paddingOuter":0},"axis":{"values":[17,3],"labelExpr":"datum.value == 17 ? 'Max' : 'Min'","labelAngle":-90,"labelAlign":"center","labelBaseline":"bottom","labelPadding":8,"labelFontSize":22,"title":null}},"color":{"field":"v","type":"quantitative","scale":{"domain":[0,10,30,50,73,100],"range":["#ffffff","#0000ff","#00ffff","#00ff00","#ffff00","#ff0000"],"interpolate":"rgb"},"legend":null}}},
{"data":{"name":"FC1"},"width":156,"height":160,"title":{"text":"Fecundity"},"mark":"rect","encoding":{"x":{"field":"a","type":"quantitative","scale":{"domain":[10,20],"nice":false,"zero":false},"axis":null},"x2":{"field":"b"},"y":{"field":"y","type":"ordinal","scale":{"domain":[19,18,17,16,15,14,13,12,11,10,9,8,7,6,5,4,3,2,1,0],"paddingInner":0,"paddingOuter":0},"axis":null},"color":{"field":"v","type":"quantitative","scale":{"domain":[0,10,30,50,73,100],"range":["#ffffff","#0000ff","#00ffff","#00ff00","#ffff00","#ff0000"],"interpolate":"rgb"},"legend":null}}},
{"data":{"name":"FC2"},"width":156,"height":160,"title":{"text":" "},"mark":"rect","encoding":{"x":{"field":"a","type":"quantitative","scale":{"domain":[10,20],"nice":false,"zero":false},"axis":null},"x2":{"field":"b"},"y":{"field":"y","type":"ordinal","scale":{"domain":[19,18,17,16,15,14,13,12,11,10,9,8,7,6,5,4,3,2,1,0],"paddingInner":0,"paddingOuter":0},"axis":null},"color":{"field":"v","type":"quantitative","scale":{"domain":[0,10,30,50,73,100],"range":["#ffffff","#0000ff","#00ffff","#00ff00","#ffff00","#ff0000"],"interpolate":"rgb"},"legend":null}}}
]},
{"spacing":2,"hconcat":[
{"data":{"name":"SD0"},"width":156,"height":160,"title":{"text":" "},"mark":"rect","encoding":{"x":{"field":"a","type":"quantitative","scale":{"domain":[10,20],"nice":false,"zero":false},"axis":null},"x2":{"field":"b"},"y":{"field":"y","type":"ordinal","scale":{"domain":[19,18,17,16,15,14,13,12,11,10,9,8,7,6,5,4,3,2,1,0],"paddingInner":0,"paddingOuter":0},"axis":{"values":[17,3],"labelExpr":"datum.value == 17 ? 'Max' : 'Min'","labelAngle":-90,"labelAlign":"center","labelBaseline":"bottom","labelPadding":8,"labelFontSize":22,"title":null}},"color":{"field":"v","type":"quantitative","scale":{"domain":[0,10,30,50,73,100],"range":["#ffffff","#0000ff","#00ffff","#00ff00","#ffff00","#ff0000"],"interpolate":"rgb"},"legend":null}}},
{"data":{"name":"SD1"},"width":156,"height":160,"title":{"text":"Seed Dispersal"},"mark":"rect","encoding":{"x":{"field":"a","type":"quantitative","scale":{"domain":[10,20],"nice":false,"zero":false},"axis":null},"x2":{"field":"b"},"y":{"field":"y","type":"ordinal","scale":{"domain":[19,18,17,16,15,14,13,12,11,10,9,8,7,6,5,4,3,2,1,0],"paddingInner":0,"paddingOuter":0},"axis":null},"color":{"field":"v","type":"quantitative","scale":{"domain":[0,10,30,50,73,100],"range":["#ffffff","#0000ff","#00ffff","#00ff00","#ffff00","#ff0000"],"interpolate":"rgb"},"legend":null}}},
{"data":{"name":"SD2"},"width":156,"height":160,"title":{"text":" "},"mark":"rect","encoding":{"x":{"field":"a","type":"quantitative","scale":{"domain":[10,20],"nice":false,"zero":false},"axis":null},"x2":{"field":"b"},"y":{"field":"y","type":"ordinal","scale":{"domain":[19,18,17,16,15,14,13,12,11,10,9,8,7,6,5,4,3,2,1,0],"paddingInner":0,"paddingOuter":0},"axis":null},"color":{"field":"v","type":"quantitative","scale":{"domain":[0,10,30,50,73,100],"range":["#ffffff","#0000ff","#00ffff","#00ff00","#ffff00","#ff0000"],"interpolate":"rgb"},"legend":null}}}
]},
{"spacing":2,"hconcat":[
{"data":{"name":"AB0"},"width":156,"height":160,"title":{"text":" "},"mark":"rect","encoding":{"x":{"field":"a","type":"quantitative","scale":{"domain":[10,20],"nice":false,"zero":false},"axis":{"values":[10,20],"labelExpr":"datum.value + 'k'","labelFlush":true,"labelPadding":3,"labelFontSize":25,"title":null}},"x2":{"field":"b"},"y":{"field":"y","type":"ordinal","scale":{"domain":[19,18,17,16,15,14,13,12,11,10,9,8,7,6,5,4,3,2,1,0],"paddingInner":0,"paddingOuter":0},"axis":{"values":[17,3],"labelExpr":"datum.value == 17 ? 'Max' : 'Min'","labelAngle":-90,"labelAlign":"center","labelBaseline":"bottom","labelPadding":8,"labelFontSize":22,"title":null}},"color":{"field":"v","type":"quantitative","scale":{"domain":[0,10,30,50,73,100],"range":["#ffffff","#0000ff","#00ffff","#00ff00","#ffff00","#ff0000"],"interpolate":"rgb"},"legend":null}}},
{"data":{"name":"AB1"},"width":156,"height":160,"title":{"text":"Abscission"},"mark":"rect","encoding":{"x":{"field":"a","type":"quantitative","scale":{"domain":[10,20],"nice":false,"zero":false},"axis":{"values":[10,20],"labelExpr":"datum.value + 'k'","labelFlush":true,"labelPadding":3,"labelFontSize":25,"title":"Time Step","titleFontSize":26,"titlePadding":1}},"x2":{"field":"b"},"y":{"field":"y","type":"ordinal","scale":{"domain":[19,18,17,16,15,14,13,12,11,10,9,8,7,6,5,4,3,2,1,0],"paddingInner":0,"paddingOuter":0},"axis":null},"color":{"field":"v","type":"quantitative","scale":{"domain":[0,10,30,50,73,100],"range":["#ffffff","#0000ff","#00ffff","#00ff00","#ffff00","#ff0000"],"interpolate":"rgb"},"legend":null}}},
{"data":{"name":"AB2"},"width":156,"height":160,"title":{"text":" "},"mark":"rect","encoding":{"x":{"field":"a","type":"quantitative","scale":{"domain":[10,20],"nice":false,"zero":false},"axis":{"values":[10,20],"labelExpr":"datum.value + 'k'","labelFlush":true,"labelPadding":3,"labelFontSize":25,"title":null}},"x2":{"field":"b"},"y":{"field":"y","type":"ordinal","scale":{"domain":[19,18,17,16,15,14,13,12,11,10,9,8,7,6,5,4,3,2,1,0],"paddingInner":0,"paddingOuter":0},"axis":null},"color":{"field":"v","type":"quantitative","scale":{"domain":[0,10,30,50,73,100],"range":["#ffffff","#0000ff","#00ffff","#00ff00","#ffff00","#ff0000"],"interpolate":"rgb"},"legend":null}}}
]}
]
},
{"data":{"name":"CB"},"width":7,"height":757,"view":{"stroke":null},"mark":"rect","encoding":{"y":{"field":"p","type":"quantitative","scale":{"domain":[0,100],"nice":false,"zero":false},"axis":{"orient":"right","values":[0,10,20,30,40,50,60,70,80,90,100],"labelExpr":"datum.value + '%'","labelAngle":-90,"labelAlign":"center","labelBaseline":"top","ticks":true,"tickSize":6,"tickWidth":1.5,"tickColor":"#000000","labelPadding":2,"labelFontSize":22,"title":"% of population","titleAngle":270,"titleBaseline":"top","titleFontSize":25,"titlePadding":4}},"y2":{"field":"q"},"color":{"field":"p","type":"quantitative","scale":{"domain":[0,10,30,50,73,100],"range":["#ffffff","#0000ff","#00ffff","#00ff00","#ffff00","#ff0000"],"interpolate":"rgb"},"legend":null}}}
],
"spacing":4
}
